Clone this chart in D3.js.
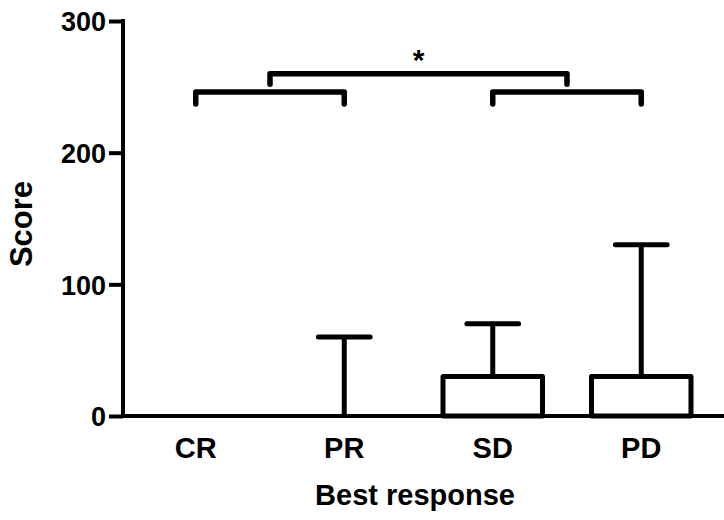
<!DOCTYPE html>
<html>
<head>
<meta charset="utf-8">
<script src="https://cdn.jsdelivr.net/npm/d3@7"></script>
<style>
  body { margin: 0; background: #fff; }
  text { font-family: "Liberation Sans", Arial, sans-serif; font-weight: bold; fill: #000; }
</style>
</head>
<body>
<div id="chart"></div>
<script>
// data
const categories = ["CR", "PR", "SD", "PD"];
const means = [0, 0, 30, 30];
const upperErr = [0, 60, 70, 130];
const yTicks = [0, 100, 200, 300];

// significance brackets: [left group, right group, bar height, leg end]
const pairBrackets = [["CR", "PR", 246, 237], ["SD", "PD", 246, 237]];
const topBracket = { height: 260, leg: 252, label: "*" };

const width = 724, height = 520;
const marginLeft = 123, plotTop = 21, plotBottom = 416;

const svg = d3.select("#chart").append("svg")
  .attr("width", width)
  .attr("height", height);

const x = d3.scaleBand()
  .domain(categories)
  .range([marginLeft, 714])
  .paddingInner(0.33)
  .paddingOuter(0.155);

const y = d3.scaleLinear()
  .domain([0, 300])
  .range([plotBottom, plotTop]);

const cx = c => x(c) + x.bandwidth() / 2;

//------------------ AXES ------------------//
const yAxis = svg.append("g")
  .attr("transform", "translate(" + marginLeft + ",0)")
  .call(d3.axisLeft(y).tickValues(yTicks).tickSize(14).tickPadding(3));
yAxis.select(".domain").remove();
yAxis.selectAll(".tick line").attr("stroke", "#000").attr("stroke-width", 4);
yAxis.selectAll(".tick text")
  .style("font-size", "27px")
  .attr("dy", "0.36em");

// axis lines drawn by hand so the x line runs to the edge
svg.append("line")
  .attr("x1", marginLeft).attr("x2", marginLeft)
  .attr("y1", y(300) - 2).attr("y2", plotBottom + 2)
  .attr("stroke", "#000").attr("stroke-width", 4);
svg.append("line")
  .attr("x1", marginLeft - 2).attr("x2", width)
  .attr("y1", plotBottom).attr("y2", plotBottom)
  .attr("stroke", "#000").attr("stroke-width", 4);

const xAxis = svg.append("g")
  .attr("transform", "translate(0," + plotBottom + ")")
  .call(d3.axisBottom(x).tickSize(0).tickPadding(21));
xAxis.select(".domain").remove();
xAxis.selectAll(".tick text").style("font-size", "29px");

svg.append("text")
  .attr("x", 415)
  .attr("y", 505)
  .attr("text-anchor", "middle")
  .style("font-size", "29px")
  .text("Best response");

svg.append("text")
  .attr("transform", "translate(32," + 224 + ") rotate(-90)")
  .attr("text-anchor", "middle")
  .style("font-size", "31px")
  .text("Score");

//------------------ BARS ------------------//
const bars = categories.map((c, i) => ({ cat: c, mean: means[i], err: upperErr[i] }));

// error bars (drawn first, box covers stem bottom)
const errs = bars.filter(d => d.err > d.mean);
svg.append("g").selectAll("line.stem")
  .data(errs).enter().append("line")
  .attr("x1", d => cx(d.cat)).attr("x2", d => cx(d.cat))
  .attr("y1", d => y(d.mean)).attr("y2", d => y(d.err))
  .attr("stroke", "#000").attr("stroke-width", 5);
svg.append("g").selectAll("line.cap")
  .data(errs).enter().append("line")
  .attr("x1", d => cx(d.cat) - x.bandwidth() * 0.26)
  .attr("x2", d => cx(d.cat) + x.bandwidth() * 0.26)
  .attr("y1", d => y(d.err)).attr("y2", d => y(d.err))
  .attr("stroke", "#000").attr("stroke-width", 5)
  .attr("stroke-linecap", "round");

svg.append("g").selectAll("rect")
  .data(bars).enter().append("rect")
  .attr("x", d => x(d.cat))
  .attr("y", d => y(d.mean))
  .attr("width", x.bandwidth())
  .attr("height", d => y(0) - y(d.mean))
  .attr("fill", "#fff")
  .attr("stroke", "#000")
  .attr("stroke-width", 5)
  .attr("stroke-linejoin", "round");

//------------------ SIGNIFICANCE ------------------//
function bracket(x1, x2, h, leg) {
  svg.append("path")
    .attr("d", "M" + x1 + "," + y(leg) + "V" + y(h) + "H" + x2 + "V" + y(leg))
    .attr("fill", "none")
    .attr("stroke", "#000")
    .attr("stroke-width", 5.5)
    .attr("stroke-linecap", "round")
    .attr("stroke-linejoin", "round");
}

const mids = pairBrackets.map(b => {
  bracket(cx(b[0]), cx(b[1]), b[2], b[3]);
  return (cx(b[0]) + cx(b[1])) / 2;
});
bracket(mids[0], mids[1], topBracket.height, topBracket.leg);

svg.append("text")
  .attr("x", (mids[0] + mids[1]) / 2)
  .attr("y", y(topBracket.height) - 4)
  .attr("text-anchor", "middle")
  .style("font-size", "30px")
  .text(topBracket.label);
</script>
</body>
</html>
